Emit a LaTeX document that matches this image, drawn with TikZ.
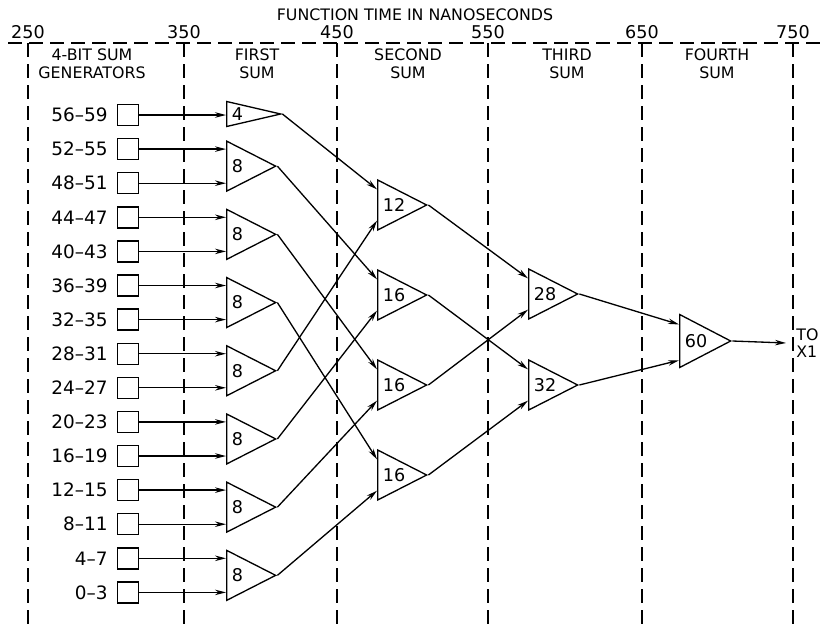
\documentclass[tikz,border=0pt]{standalone}
\usepackage{fontspec}
\setmainfont{DejaVu Sans}
\usetikzlibrary{arrows.meta, positioning, calc, shapes.geometric}

\begin{document}
\begin{tikzpicture}[
  x=0.2mm, y=-0.2mm,
  font=\fontsize{10.5}{12}\selectfont,
  gen/.style={
    rectangle,
    draw,
    minimum width=4.2mm,
    minimum height=4.2mm,
    inner sep=0pt,
    line width=0.8pt
  },
  adder/.style={
    isosceles triangle,
    isosceles triangle stretches=true,
    shape border rotate=0,
    draw,
    inner sep=0pt,
    anchor=lower side,
    minimum width=10mm,
    minimum height=9.8mm,
    line width=0.75pt,
    label={[anchor=west, inner sep=1.1mm, font=\fontsize{10}{12}\selectfont]180:#1}
  },
  flow/.style={
    -{Stealth[length=2.2mm, width=1.1mm]},
    line width=0.75pt
  },
  grid/.style={
    dash pattern=on 2.8mm off 1.4mm,
    line width=1.1pt
  },
  tick/.style={
    font=\fontsize{10}{12}\selectfont,
    inner sep=0pt
  },
  head/.style={
    font=\fontsize{9}{10.2}\selectfont,
    align=center
  }
]

\useasboundingbox (0,0) rectangle (821,627);

% --- Time axis -------------------------------------------------------

\node[head] (title) at (415,15) {FUNCTION TIME IN NANOSECONDS};

\draw[grid] (8,43) -- (821,43);
\foreach \x/\v in {28/250, 184/350, 337/450, 488/550, 642/650, 793/750} {
  \node[tick] (t\v) at (\x,32) {\v};
  \draw[grid] (\x,43) -- (\x,627);
}

% --- Column headings -------------------------------------------------

\node[head] (hgen)    at (92,64)  {4-BIT SUM\\GENERATORS};
\node[head] (hfirst)  at (257,64) {FIRST\\SUM};
\node[head] (hsecond) at (408,64) {SECOND\\SUM};
\node[head] (hthird)  at (567,64) {THIRD\\SUM};
\node[head] (hfourth) at (717,64) {FOURTH\\SUM};

% --- Adders ----------------------------------------------------------

\node[adder=4, minimum width=5mm, minimum height=10.8mm] (first0) at (226,114) {};
\foreach \k in {1,...,7}
  \node[adder=8] (first\k) at (226,{115+34.1*(2*\k-0.5)}) {};

\foreach \k/\n in {0/12, 1/16, 2/16, 3/16}
  \node[adder=\n] (second\k) at (377,{205+90*\k}) {};

\node[adder=28] (third0) at (528,294) {};
\node[adder=32] (third1) at (528,385) {};

\node[adder=60, minimum width=10.6mm, minimum height=10.2mm] (fourth) at (679,341) {};

\node[anchor=west, align=left, inner xsep=2mm, inner ysep=0pt,
  font=\fontsize{9}{10}\selectfont] (out) at (786,343) {TO\\X1};

% --- 4-bit sum generators --------------------------------------------

\foreach \i in {0,...,14} {
  \pgfmathtruncatemacro{\lo}{56-4*\i}
  \pgfmathtruncatemacro{\hi}{\lo+3}
  \pgfmathtruncatemacro{\tri}{(\i+1)/2}
  \node[gen] (g\i) at (128,{115+34.1*\i}) {};
  \node[left=0.6mm of g\i] (gl\i) {\lo--\hi};
  \draw[flow] (g\i.east) -- (g\i.east -| first\tri.left corner);
}

% --- Flows -----------------------------------------------------------

\foreach \k/\m/\p in {0/0/0.2, 1/1/0.2, 2/2/0.2, 3/3/0.2,
                      4/0/0.8, 5/1/0.8, 6/2/0.8, 7/3/0.8}
  \draw[flow] (first\k.apex) -- ($(second\m.left corner)!\p!(second\m.right corner)$);

\foreach \k/\m/\p in {0/0/0.2, 2/0/0.8, 1/1/0.2, 3/1/0.8}
  \draw[flow] (second\k.apex) -- ($(third\m.left corner)!\p!(third\m.right corner)$);

\draw[flow] (third0.apex) -- ($(fourth.left corner)!0.2!(fourth.right corner)$);
\draw[flow] (third1.apex) -- ($(fourth.left corner)!0.85!(fourth.right corner)$);

\draw[flow] (fourth.apex) -- (out.west);

\end{tikzpicture}
\end{document}
